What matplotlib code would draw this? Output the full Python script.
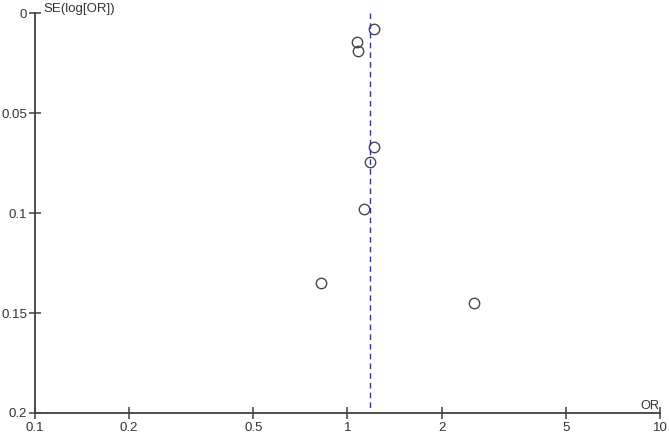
import numpy as np
import matplotlib.pyplot as plt
from matplotlib.ticker import FixedLocator, FixedFormatter, NullLocator

plt.rcParams['font.family'] = ['Liberation Sans', 'DejaVu Sans']

# Studien: Odds Ratio und Standardfehler von log(OR)
odds_ratio = [1.22, 1.07, 1.08, 1.22, 1.18, 1.13, 0.82, 2.54]
se_log_or = [0.008, 0.0144, 0.019, 0.0667, 0.0745, 0.098, 0.1347, 0.145]
pooled_or = 1.18

x_ticks = [0.1, 0.2, 0.5, 1, 2, 5, 10]
x_labels = ["0.1", "0.2", "0.5", "1", "2", "5", "10"]
y_ticks = [0, 0.05, 0.1, 0.15, 0.2]
y_labels = ["0", "0.05", "0.1", "0.15", "0.2"]

fig = plt.figure(figsize=(6.69, 4.34), dpi=100)
ax = fig.add_axes([0.0523, 0.0484, 0.9342, 0.9205])

ax.plot(odds_ratio, se_log_or, 'o', ms=7.5, mfc='none', mec='#484848', mew=1.0)
ax.plot([pooled_or, pooled_or], [0, 0.2], '--', color='#2a2ad0', lw=1.0, dashes=(4, 3))

ax.set_xscale('log')
ax.set_xlim(0.1, 10)
ax.set_ylim(0.2, 0)

ax.xaxis.set_major_locator(FixedLocator(x_ticks))
ax.xaxis.set_major_formatter(FixedFormatter(x_labels))
ax.xaxis.set_minor_locator(NullLocator())
ax.yaxis.set_major_locator(FixedLocator(y_ticks))
ax.yaxis.set_major_formatter(FixedFormatter(y_labels))

for s in ['top', 'right']:
    ax.spines[s].set_visible(False)
for s in ['left', 'bottom']:
    ax.spines[s].set_color('#404040')
    ax.spines[s].set_linewidth(1.3)

ax.tick_params(direction='inout', length=8, width=1.1, color='#404040',
               labelsize=9.5, labelcolor='#333333')
ax.tick_params(axis='x', pad=2.5)
ax.tick_params(axis='y', pad=1.5)

ax.annotate("SE(log[OR])", xy=(0, 1), xycoords='axes fraction',
            xytext=(5.8, 0.8), textcoords='offset points', fontsize=9.5,
            color='#333333', ha='left', va='baseline')
ax.annotate("OR", xy=(1, 0), xycoords='axes fraction',
            xytext=(-0.7, 2.9), textcoords='offset points', fontsize=9.2,
            color='#333333', ha='right', va='baseline')

fig.savefig("out.png", dpi=100)
